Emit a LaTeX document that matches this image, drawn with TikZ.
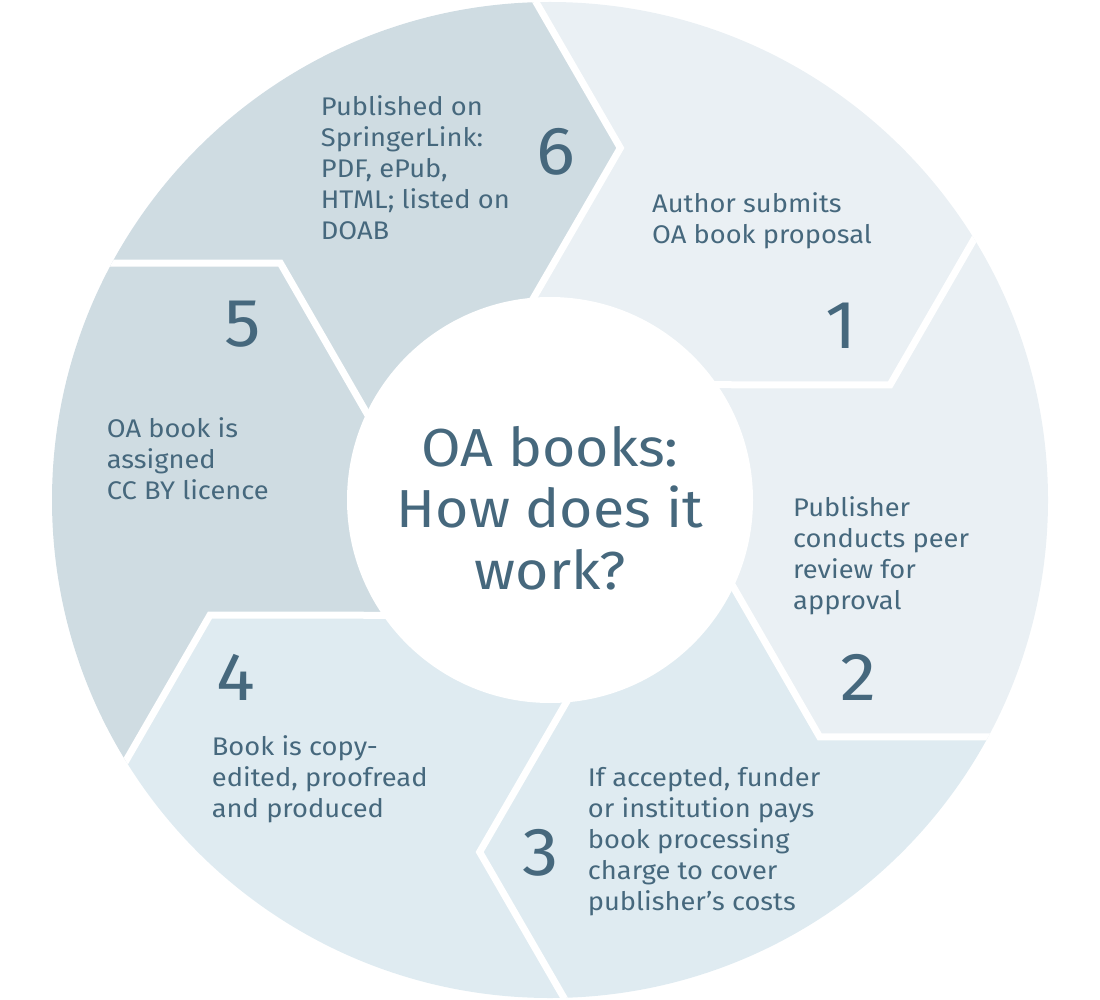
\documentclass[tikz,border=0pt]{standalone}
\usepackage{fontspec}
\setmainfont{Fira Sans}[FakeStretch=1.07]
\usetikzlibrary{calc}
\definecolor{txt}{HTML}{46687D}
\definecolor{cA}{HTML}{EAF0F4}
\definecolor{cB}{HTML}{DFEBF1}
\definecolor{cC}{HTML}{CFDCE2}
\tikzset{
  lbl/.style={font=\fontsize{25.5}{31}\selectfont, text=txt, align=left, anchor=base west, inner sep=0pt},
  num/.style={font=\fontsize{68}{68}\selectfont, text=txt, anchor=base, inner sep=0pt},
  gap/.style={white, line width=7pt, line join=miter}
}
\begin{document}
\begin{tikzpicture}[x=1pt,y=-1pt]
\useasboundingbox (0,0) rectangle (1100,1000);
\coordinate (C) at (550,500);
\foreach \k in {0,...,6} {
  \coordinate (o\k) at ($(C)+({60*\k-91.6}:498)$);
  \coordinate (t\k) at ($(C)+({60*\k-78.7}:359)$);
  \coordinate (i\k) at ($(C)+({60*\k-94.6}:203)$);
  \coordinate (oe\k) at ($(t\k)!1.4!(o\k)$);
  \coordinate (ie\k) at ($(t\k)!1.2!(i\k)$);
  \coordinate (f\k) at ($(C)+({60*\k-91.6}:750)$);
  \coordinate (m\k) at ($(C)+({60*\k-61.6}:750)$);
}
\begin{scope}
  \clip (C) circle (498);
  \foreach \k/\c in {0/cA,1/cA,2/cB,3/cB,4/cC,5/cC} {
    \pgfmathtruncatemacro\kk{\k+1}
    \fill[\c] (C) -- (i\k) -- (t\k) -- (oe\k) -- (f\k) -- (m\k) -- (f\kk) -- (oe\kk) -- (t\kk) -- (i\kk) -- cycle;
  }
  \foreach \k in {0,...,5} {
    \draw[gap] (oe\k) -- (t\k) -- (ie\k);
  }
\end{scope}
\fill[white] (C) circle (203);

\node[font=\fontsize{53.5}{61.5}\selectfont, text=txt, align=center, anchor=base, inner sep=0pt] (ctr) at (550,589) {OA books:\\How does it\\work?};

\node[lbl] (t1) at (652,243.3) {Author submits\\OA book proposal};
\node[num] (n1) at (841,348) {1};
\node[lbl] (t2) at (793,609.7) {Publisher\\conducts peer\\review for\\approval};
\node[num] (n2) at (858,700.7) {2};
\node[lbl] (t3) at (587.7,910.7) {If accepted, funder\\or institution pays\\book processing\\charge to cover\\publisher’s costs};
\node[num] (n3) at (541,875) {3};
\node[num] (n4) at (235.5,700) {4};
\node[lbl] (t4) at (211.7,817) {Book is copy-\\edited, proofread\\and produced};
\node[num] (n5) at (242.5,346) {5};
\node[lbl] (t5) at (106.7,499.7) {OA book is\\assigned\\CC BY licence};
\node[lbl] (t6) at (320.7,240) {Published on\\SpringerLink:\\PDF, ePub,\\HTML; listed on\\DOAB};
\node[num] (n6) at (556,175) {6};
\end{tikzpicture}
\end{document}
